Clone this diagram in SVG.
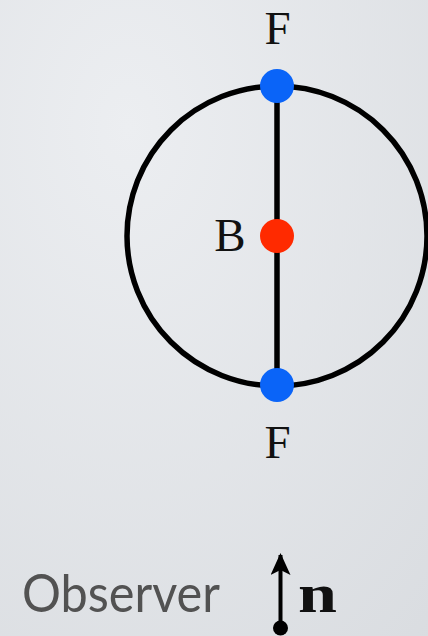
<svg xmlns="http://www.w3.org/2000/svg" width="428" height="636" viewBox="0 0 428 636">
<defs>
<radialGradient id="bg" cx="0.3" cy="0.2" r="1.1">
<stop offset="0" stop-color="#eceef1"/>
<stop offset="1" stop-color="#d9dce0"/>
</radialGradient>
<marker id="ah" viewBox="0 0 22 20" refX="20" refY="10" markerWidth="22" markerHeight="20" markerUnits="userSpaceOnUse" orient="auto">
<path d="M22 10 L0 0 L5 10 L0 20 Z" fill="#000"/>
</marker>
<style>
.lbl{font-family:"Liberation Serif","DejaVu Serif",serif;font-size:47px;fill:#111;text-anchor:middle}
.dot{stroke:none}
.ln{stroke:#000;stroke-width:5.5;fill:none}
</style>
</defs>
<rect width="428" height="636" fill="url(#bg)"/>
<g id="connectors">
<circle class="ln" cx="277" cy="236" r="150"/>
<line class="ln" x1="277" y1="86" x2="277" y2="385"/>
<line x1="280.5" y1="628" x2="280.5" y2="555" stroke="#000" stroke-width="4" marker-end="url(#ah)"/>
</g>
<g id="F-top"><circle class="dot" cx="277" cy="86" r="17" fill="#0a64f8"/><text class="lbl" x="277.5" y="44">F</text></g>
<g id="B"><circle class="dot" cx="277" cy="236" r="17" fill="#ff2a00"/><text class="lbl" x="230" y="251">B</text></g>
<g id="F-bottom"><circle class="dot" cx="277" cy="385" r="17" fill="#0a64f8"/><text class="lbl" x="277.5" y="458">F</text></g>
<g id="observer">
<text x="22" y="612" font-family="Lato,'Liberation Sans',sans-serif" font-size="52" fill="#525252" textLength="198" lengthAdjust="spacingAndGlyphs">Observer</text>
<circle cx="280.5" cy="628" r="7.5" fill="#000"/>
<text x="298" y="612" font-family="'Liberation Serif',serif" font-weight="bold" font-size="54" fill="#111" textLength="39" lengthAdjust="spacingAndGlyphs">n</text>
</g>
</svg>
